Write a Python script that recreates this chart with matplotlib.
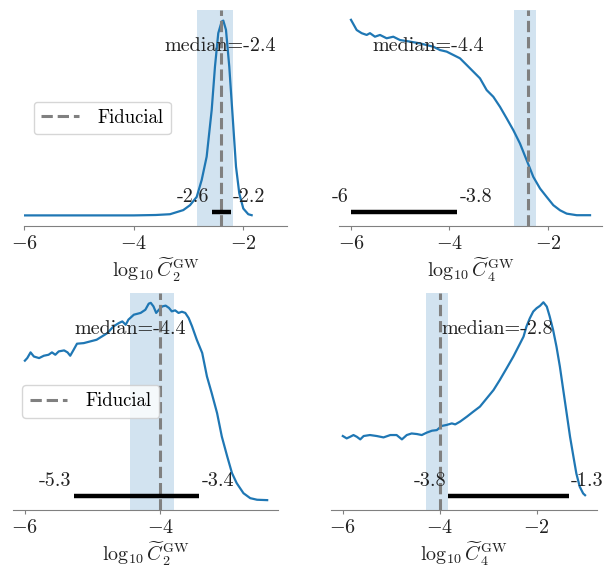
import matplotlib
matplotlib.use("Agg")
import matplotlib.pyplot as plt

plt.rcParams["font.family"] = "serif"
plt.rcParams["font.serif"] = ["cmr10", "DejaVu Serif"]
plt.rcParams["mathtext.fontset"] = "cm"
plt.rcParams["axes.formatter.use_mathtext"] = True

# ---------------- data ----------------
# top-left: log10 C2 (first run)
tl_x = [-6.0, -5.0, -4.0, -3.6, -3.339, -3.096, -2.973, -2.851, -2.760, -2.669,
        -2.577, -2.517, -2.457, -2.395, -2.365, -2.316, -2.256, -2.194, -2.133,
        -2.073, -2.0, -1.909, -1.847]
tl_y = [0.004, 0.004, 0.004, 0.006, 0.010, 0.031, 0.056, 0.098, 0.184, 0.303,
        0.541, 0.762, 0.932, 0.991, 0.996, 0.949, 0.762, 0.507, 0.252,
        0.116, 0.039, 0.010, 0.005]

# top-right: log10 C4 (first run)
tr_x = [-6.0, -5.884, -5.783, -5.681, -5.614, -5.513, -5.411, -5.276, -5.141, -5.005,
        -4.802, -4.599, -4.329, -4.193, -4.057, -3.922, -3.787, -3.651, -3.516, -3.381,
        -3.245, -3.110, -2.975, -2.839, -2.704, -2.569, -2.433, -2.298, -2.162, -2.027,
        -1.892, -1.756, -1.621, -1.418, -1.147]
tr_y = [1.0, 0.948, 0.932, 0.923, 0.932, 0.914, 0.923, 0.906, 0.914, 0.897,
        0.889, 0.880, 0.863, 0.846, 0.838, 0.821, 0.804, 0.770, 0.736, 0.702,
        0.642, 0.608, 0.557, 0.498, 0.438, 0.370, 0.285, 0.200, 0.141, 0.098,
        0.056, 0.030, 0.013, 0.005, 0.005]

# bottom-left: log10 C2 (second run)
bl_x = [-6.00, -5.965, -5.916, -5.867, -5.79, -5.72, -5.65, -5.60, -5.55, -5.50,
        -5.42, -5.37, -5.33, -5.28, -5.23, -5.13, -5.03, -4.94, -4.86, -4.78,
        -4.69, -4.61, -4.56, -4.51, -4.47, -4.39, -4.29, -4.22, -4.17, -4.14,
        -4.10, -4.06, -4.02, -3.97, -3.92, -3.87, -3.83, -3.78, -3.73, -3.68,
        -3.63, -3.58, -3.53, -3.46, -3.38, -3.31, -3.24, -3.16, -3.09, -3.01,
        -2.94, -2.87, -2.77, -2.67, -2.57, -2.42]
bl_y = [0.707, 0.720, 0.749, 0.728, 0.720, 0.732, 0.737, 0.749, 0.737, 0.754,
        0.759, 0.749, 0.732, 0.762, 0.793, 0.796, 0.805, 0.813, 0.830, 0.847,
        0.881, 0.898, 0.906, 0.889, 0.915, 0.940, 0.949, 0.965, 0.996, 1.0,
        0.982, 0.949, 0.965, 0.982, 0.986, 0.974, 0.957, 0.962, 0.949, 0.955,
        0.949, 0.923, 0.881, 0.813, 0.746, 0.627, 0.543, 0.441, 0.322, 0.221,
        0.137, 0.086, 0.035, 0.010, 0.002, 0.0]

# bottom-right: log10 C4 (second run)
br_x = [-6.00, -5.92, -5.85, -5.78, -5.71, -5.64, -5.57, -5.44, -5.30, -5.16,
        -5.02, -4.89, -4.78, -4.68, -4.58, -4.47, -4.37, -4.27, -4.16, -4.06,
        -3.96, -3.86, -3.75, -3.68, -3.58, -3.44, -3.31, -3.17, -3.03, -2.89,
        -2.76, -2.62, -2.48, -2.34, -2.27, -2.21, -2.14, -2.07, -2.00, -1.93,
        -1.86, -1.79, -1.73, -1.66, -1.59, -1.52, -1.45, -1.38, -1.31, -1.24,
        -1.18, -1.11, -1.04, -1.00]
br_y = [0.325, 0.313, 0.321, 0.330, 0.321, 0.308, 0.325, 0.330, 0.325, 0.318,
        0.330, 0.330, 0.308, 0.330, 0.338, 0.335, 0.330, 0.342, 0.352, 0.355,
        0.376, 0.381, 0.389, 0.384, 0.398, 0.423, 0.448, 0.474, 0.516, 0.558,
        0.609, 0.668, 0.728, 0.795, 0.829, 0.880, 0.922, 0.956, 0.973, 0.985,
        1.003, 0.981, 0.931, 0.863, 0.778, 0.677, 0.558, 0.440, 0.321, 0.220,
        0.135, 0.068, 0.034, 0.025]

medians = [-2.42, -4.44, -4.44, -2.81]
hdi_low = [-2.58, -6.0, -5.28, -3.82]
hdi_high = [-2.23, -3.84, -3.42, -1.33]
fiducial = [-2.4, -2.4, -4.0, -4.0]
band_low = [-2.85, -2.69, -4.44, -4.28]
band_high = [-2.19, -2.25, -3.80, -3.835]
xlabels = [r"$\log_{10}\widetilde{C}_2^{\rm GW}$", r"$\log_{10}\widetilde{C}_4^{\rm GW}$",
           r"$\log_{10}\widetilde{C}_2^{\rm GW}$", r"$\log_{10}\widetilde{C}_4^{\rm GW}$"]
xticks = [[-6, -4, -2], [-6, -4, -2], [-6, -4], [-6, -4, -2]]
xlims = [(-6.0, -1.196), (-6.243, -0.904), (-6.18, -2.26), (-6.25, -0.76)]
show_legend = [True, False, True, False]

curves = [(tl_x, tl_y), (tr_x, tr_y), (bl_x, bl_y), (br_x, br_y)]

W, H = 613, 567
# axes boxes in pixels: left, top, right, bottom
boxes = [(24.3, 10, 287.3, 226), (339, 10, 602, 226),
         (12.7, 293, 278, 510), (330.7, 293, 596.7, 510)]

fig = plt.figure(figsize=(W / 100, H / 100), dpi=100)
fs = 14.5
for i in range(4):
    l, t, r, b = boxes[i]
    ax = fig.add_axes([l / W, 1 - b / H, (r - l) / W, (b - t) / H])
    x, y = curves[i]
    ax.axvspan(band_low[i], band_high[i], color="#1f77b4", alpha=0.2, lw=0, zorder=0)
    ax.plot(x, y, color="#1f77b4", lw=1.6, zorder=2)
    ax.axvline(fiducial[i], color="grey", ls="--", lw=2.2, label="Fiducial", zorder=3)
    top = 1.05
    ax.plot([hdi_low[i], hdi_high[i]], [top * 0.02, top * 0.02], color="k", lw=3.2,
            solid_capstyle="butt", zorder=4)
    ax.annotate("%.2g" % hdi_low[i], (hdi_low[i], top * 0.07), xytext=(-1.5, 0),
                textcoords="offset points", ha="right", fontsize=fs, color="#222222")
    ax.annotate("%.2g" % hdi_high[i], (hdi_high[i], top * 0.07), xytext=(1.5, 0),
                textcoords="offset points", ha="left", fontsize=fs, color="#222222")
    ax.text(medians[i], top * 0.8, "median=%.2g" % medians[i], ha="center",
            fontsize=fs, color="#222222")
    for s in ["left", "top", "right"]:
        ax.spines[s].set_visible(False)
    ax.spines["bottom"].set_color("grey")
    ax.spines["bottom"].set_linewidth(0.8)
    ax.set_yticks([])
    ax.set_xticks(xticks[i])
    ax.set_xlim(*xlims[i])
    ax.set_ylim(-0.05, top)
    ax.tick_params(axis="x", colors="grey", labelcolor="#222222", labelsize=fs,
                   length=3, width=0.8)
    ax.set_xlabel(xlabels[i], fontsize=fs, color="#222222", labelpad=2)
    if show_legend[i]:
        ax.legend(loc="center left", fontsize=13.5, handletextpad=1.0)

fig.savefig("out.png", dpi=100)
